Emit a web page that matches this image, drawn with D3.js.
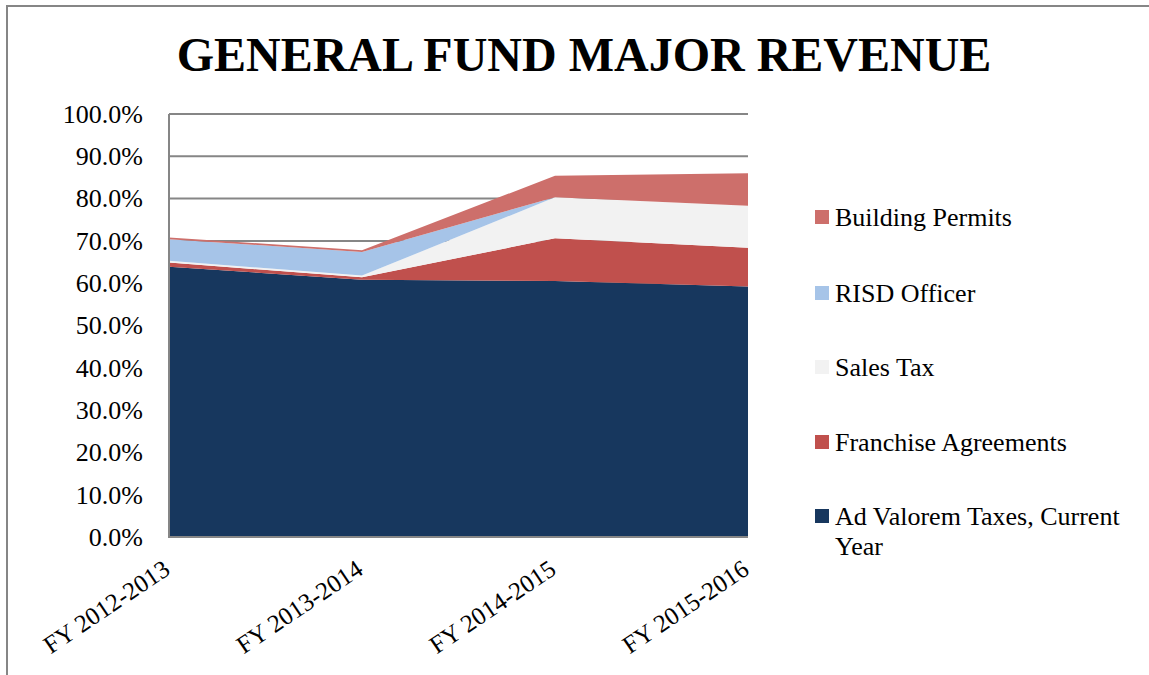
<!DOCTYPE html>
<html>
<head>
<meta charset="utf-8">
<script src="https://d3js.org/d3.v7.min.js"></script>
<style>
  body { margin: 0; background: #fff; }
  text { font-family: "Liberation Serif", "Times New Roman", serif; }
</style>
</head>
<body>
<svg id="svg"></svg>
<script>
  let width = 1149;
  let height = 675;

  // data (share of revenue, %)
  let years = ['FY 2012-2013', 'FY 2013-2014', 'FY 2014-2015', 'FY 2015-2016'];
  let adValorem = [63.9, 60.8, 60.5, 59.2];
  let franchise = [1.0, 0.6, 10.1, 9.2];
  let salesTax = [0.4, 0.4, 9.7, 9.9];
  let risdOfficer = [5.1, 5.6, 0.0, 0.0];
  let buildingPermits = [0.4, 0.4, 5.1, 7.7];
  let yTicks = [0, 10, 20, 30, 40, 50, 60, 70, 80, 90, 100];

  let seriesNames = ['Ad Valorem Taxes, Current Year', 'Franchise Agreements', 'Sales Tax', 'RISD Officer', 'Building Permits'];
  let seriesValues = [adValorem, franchise, salesTax, risdOfficer, buildingPermits];
  let colors = ['#17375e', '#c0504d', '#f2f2f2', '#a6c4e8', '#cd6f6b'];

  let rows = years.map(function (yr, i) {
    let r = { year: yr };
    seriesNames.forEach(function (n, k) { r[n] = seriesValues[k][i]; });
    return r;
  });

  let svg = d3.select('#svg')
    .attr('width', width)
    .attr('height', height);

  // outer frame (only top and left edges show)
  svg.append('rect')
    .attr('x', 7).attr('y', 6)
    .attr('width', width + 20).attr('height', height + 20)
    .attr('fill', 'none')
    .attr('stroke', '#868686')
    .attr('stroke-width', 2);

  svg.append('text')
    .attr('x', 584).attr('y', 71)
    .attr('text-anchor', 'middle')
    .attr('font-size', 48)
    .attr('font-weight', 'bold')
    .text('GENERAL FUND MAJOR REVENUE');

  let plotLeft = 169, plotRight = 748, plotTop = 114, plotBottom = 537;

  let x = d3.scalePoint().domain(years).range([plotLeft, plotRight]);
  let y = d3.scaleLinear().domain([0, 100]).range([plotBottom, plotTop]);

  // gridlines
  svg.append('g')
    .selectAll('line')
    .data(yTicks)
    .enter()
    .append('line')
    .attr('x1', plotLeft).attr('x2', plotRight)
    .attr('y1', d => y(d)).attr('y2', d => y(d))
    .attr('stroke', '#868686')
    .attr('stroke-width', 2);

  let stack = d3.stack().keys(seriesNames);
  let layers = stack(rows);

  let area = d3.area()
    .x(d => x(d.data.year))
    .y0(d => y(d[0]))
    .y1(d => y(d[1]));

  svg.append('g')
    .selectAll('path')
    .data(layers)
    .enter()
    .append('path')
    .attr('d', area)
    .attr('fill', (d, i) => colors[i]);

  // plot border left + bottom
  svg.append('path')
    .attr('d', 'M' + plotLeft + ',' + plotTop + 'V' + plotBottom + 'H' + plotRight)
    .attr('fill', 'none')
    .attr('stroke', '#868686')
    .attr('stroke-width', 2);

  // y axis labels
  let yAxis = d3.axisLeft(y)
    .tickValues(yTicks)
    .tickSize(0)
    .tickPadding(26)
    .tickFormat(d => d.toFixed(1) + '%');
  let yg = svg.append('g')
    .attr('transform', 'translate(' + plotLeft + ',0)')
    .call(yAxis);
  yg.select('.domain').remove();
  yg.selectAll('text')
    .attr('font-family', '"Liberation Serif", serif')
    .attr('font-size', 26)
    .attr('fill', '#000');

  // x axis labels, slanted
  let xAxis = d3.axisBottom(x).tickSize(0).tickPadding(0);
  let xg = svg.append('g')
    .attr('transform', 'translate(0,' + plotBottom + ')')
    .call(xAxis);
  xg.select('.domain').remove();
  xg.selectAll('text')
    .attr('font-family', '"Liberation Serif", serif')
    .attr('font-size', 25)
    .attr('fill', '#000')
    .attr('text-anchor', 'end')
    .attr('y', 0)
    .attr('dy', 0)
    .attr('transform', 'translate(2,36) rotate(-34)');

  // legend, top to bottom in reverse stack order
  let legendY = [217, 293, 367, 442, 516];
  let legendOrder = seriesNames.slice().reverse();
  let lg = svg.append('g');
  legendOrder.forEach(function (name, i) {
    let k = seriesNames.indexOf(name);
    lg.append('rect')
      .attr('x', 815).attr('y', legendY[i] - 7)
      .attr('width', 14).attr('height', 14)
      .attr('fill', colors[k]);
    let t = lg.append('text')
      .attr('x', 835).attr('y', legendY[i] + 9)
      .attr('font-size', 26);
    if (name === 'Ad Valorem Taxes, Current Year') {
      t.append('tspan').attr('x', 835).text('Ad Valorem Taxes, Current');
      t.append('tspan').attr('x', 835).attr('dy', 30).text('Year');
    } else {
      t.text(name);
    }
  });
</script>
</body>
</html>
